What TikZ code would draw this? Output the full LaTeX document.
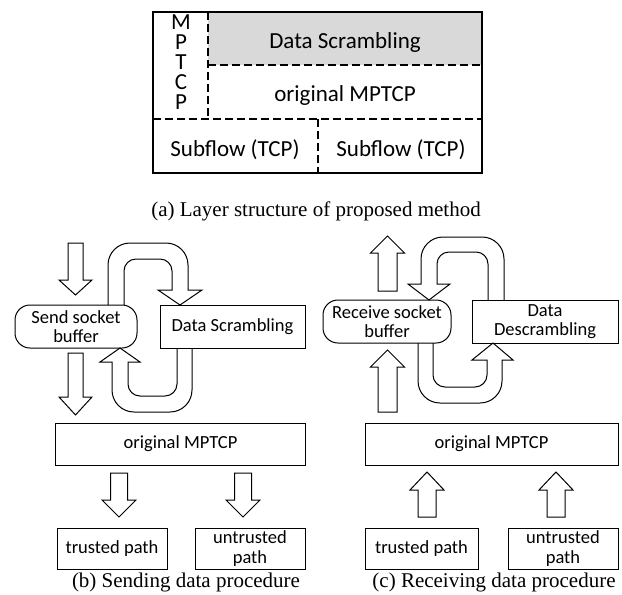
\documentclass[tikz,border=0pt]{standalone}
\usepackage{fontspec}
\setmainfont{Carlito}
\newfontfamily\capfont{Liberation Serif}
\newcommand\vblock[6]{\draw[blk] (#1-#5,#2) -- (#1+#5,#2) -- (#1+#5,#3) -- (#1+#6,#3) -- (#1,#4) -- (#1-#6,#3) -- (#1-#5,#3) -- cycle;}
\begin{document}
\begin{tikzpicture}[x=1pt,y=-1pt,
  lay/.style={line width=1.1pt},
  dsh/.style={line width=1.1pt, dash pattern=on 8pt off 4pt},
  big/.style={font=\fontsize{23}{24}\selectfont, inner sep=0pt, anchor=base},
  ltr/.style={font=\fontsize{23}{20}\selectfont, inner sep=0pt, align=center, anchor=north},
  box/.style={draw, line width=1pt, fill=white, inner sep=0pt, align=center, font=\fontsize{18.5}{19.5}\selectfont},
  rbox/.style={box, rounded corners=15pt},
  blk/.style={draw, line width=1pt, fill=white},
  ubl/.style={draw, line width=1pt},
  captxt/.style={font=\capfont\fontsize{21}{22}\selectfont, inner sep=0pt, anchor=base}]
\useasboundingbox (0,0) rectangle (622,595);
% ---------- (a) layer structure ----------
\fill[fill={rgb,255:red,217;green,217;blue,217}] (208,12) rectangle (482,65);
\draw[lay] (153,12) rectangle (482,173);
\draw[dsh] (208,12) -- (208,119);
\draw[dsh] (208,65) -- (482,65);
\draw[dsh] (153,119) -- (482,119);
\draw[dsh] (318,119) -- (318,173);
\node[ltr] (mptcp) at (181,14.8) {M\\P\\T\\C\\P};
\node[big] (ads) at (345,48) {Data Scrambling};
\node[big] (aom) at (345,101) {original MPTCP};
\node[big] (asl) at (235,156) {Subflow (TCP)};
\node[big] (asr) at (401,156) {Subflow (TCP)};
\node[captxt] (capa) at (316,216) {(a) Layer structure of proposed method};
% ---------- (b) sending ----------
\node[rbox, minimum width=122pt, minimum height=43pt] (sbuf) at (76,326.5) {Send socket\\buffer};
\node[box, minimum width=145pt, minimum height=43pt] (sds) at (232.5,326.5) {Data Scrambling};
\node[box, minimum width=250pt, minimum height=42pt] (smp) at (180.5,444) {original MPTCP};
\node[box, minimum width=110pt, minimum height=41pt] (str) at (112,548.5) {trusted path};
\node[box, minimum width=110pt, minimum height=41pt] (sun) at (250,548.5) {untrusted\\path};
\vblock{75.5}{243}{280}{295}{7.5}{16.5}
\vblock{75.5}{353}{397}{415}{7.5}{16.5}
\vblock{119}{473}{500}{517}{8.5}{17}
\vblock{243}{473}{500}{517}{8.5}{17}
\draw[ubl] (108,305) -- (108,265) arc[start angle=180,end angle=270,radius=22] -- (166,243) arc[start angle=270,end angle=360,radius=22] -- (188,290) -- (202,290) -- (180,305) -- (158,290) -- (172,290) -- (172,271) arc[start angle=0,end angle=-90,radius=12] -- (136,259) arc[start angle=270,end angle=180,radius=12] -- (124,305);
\draw[ubl] (192,348) -- (192,390) arc[start angle=0,end angle=90,radius=22] -- (134,412) arc[start angle=90,end angle=180,radius=22] -- (112,362) -- (100,362) -- (120,348) -- (140,362) -- (128,362) -- (128,384) arc[start angle=180,end angle=90,radius=12] -- (165,396) arc[start angle=90,end angle=0,radius=12] -- (177,348);
\node[captxt] (capb) at (186,587) {(b) Sending data procedure};
% ---------- (c) receiving ----------
\node[rbox, minimum width=128pt, minimum height=43pt] (rbuf) at (387,321.5) {Receive socket\\buffer};
\node[box, minimum width=146pt, minimum height=43pt] (rdd) at (545,321.5) {Data\\Descrambling};
\node[box, minimum width=253pt, minimum height=42pt] (rmp) at (491.5,444) {original MPTCP};
\node[box, minimum width=113pt, minimum height=41pt] (rtr) at (421.5,548.5) {trusted path};
\node[box, minimum width=110pt, minimum height=41pt] (run) at (563,548.5) {untrusted\\path};
\vblock{387.5}{291}{253}{236}{9.5}{17}
\vblock{387.5}{412}{367}{350}{9.5}{17}
\vblock{427}{517}{490}{472}{9}{17}
\vblock{556}{517}{490}{472}{9}{17}
\draw[ubl] (504,300) -- (504,259) arc[start angle=0,end angle=-90,radius=22] -- (443,237) arc[start angle=270,end angle=180,radius=22] -- (421,284) -- (408,284) -- (429,300) -- (450,284) -- (437,284) -- (437,264) arc[start angle=180,end angle=270,radius=12] -- (476,252) arc[start angle=270,end angle=360,radius=12] -- (488,300);
\draw[ubl] (418,343) -- (418,381) arc[start angle=180,end angle=90,radius=22] -- (480,403) arc[start angle=90,end angle=0,radius=22] -- (502,360) -- (513,360) -- (493,343) -- (472,360) -- (487,360) -- (487,375) arc[start angle=0,end angle=90,radius=12] -- (445,387) arc[start angle=90,end angle=180,radius=12] -- (433,343);
\node[captxt] (capc) at (494,587) {(c) Receiving data procedure};
\end{tikzpicture}
\end{document}
